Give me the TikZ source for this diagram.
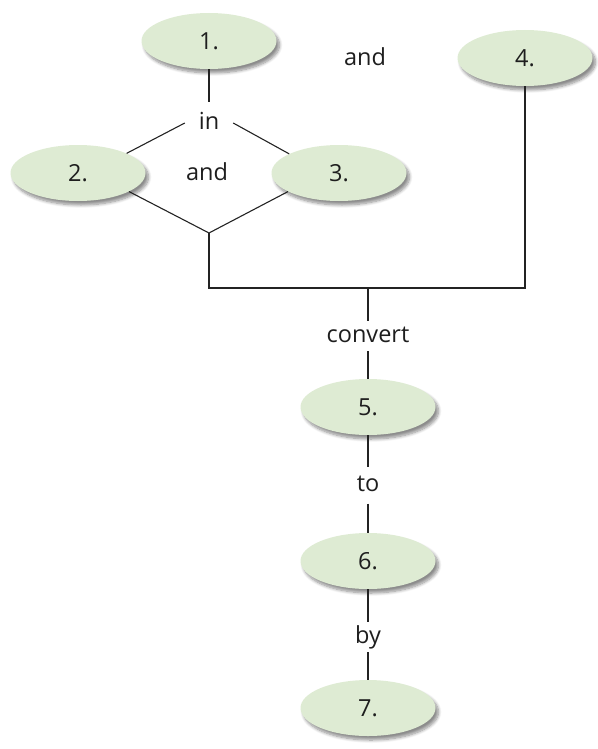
\documentclass[tikz,border=0pt]{standalone}
\usepackage{fontspec}
\setmainfont{Open Sans}
\usetikzlibrary{shapes.geometric,shadows.blur}
\definecolor{ellfill}{RGB}{222,235,211}
\definecolor{linecol}{RGB}{35,35,35}
\definecolor{txtcol}{RGB}{30,30,30}
\begin{document}
\begin{tikzpicture}[x=1pt,y=-1pt,
  ell/.style={ellipse, fill=ellfill, minimum width=135pt, minimum height=56pt, inner sep=0pt,
    font=\fontsize{23.5}{27}\selectfont, text=txtcol,
    blur shadow={shadow xshift=3pt, shadow yshift=-4pt, shadow blur radius=3pt, shadow opacity=45, shadow blur steps=8}},
  lbl/.style={inner sep=0pt, text height=17pt, text depth=5pt, font=\fontsize{23.5}{27}\selectfont, text=txtcol},
  conn/.style={draw=linecol, line width=1.1pt}]
\useasboundingbox (0,0) rectangle (597,749);

\node[ell] (e1) at (209,41) {1.};
\node[ell] (e2) at (78,173) {2.};
\node[ell] (e3) at (339,173) {3.};
\node[ell] (e4) at (525,58) {4.};
\node[ell] (e5) at (368,407) {5.};
\node[ell] (e6) at (368,561) {6.};
\node[ell] (e7) at (368,708) {7.};

\node[lbl, minimum width=48pt, minimum height=42pt] (in) at (209,123) {in};
\node[lbl] (and1) at (207,174.5) {and};
\node[lbl] (and2) at (365,59.5) {and};
\node[lbl, minimum height=30pt] (conv) at (368,336) {convert};
\node[lbl, minimum height=36pt] (to) at (368,485.5) {to};
\node[lbl, minimum height=30pt] (by) at (368,637) {by};

\coordinate (bot) at (209,233);
\coordinate (j1) at (209,288);
\coordinate (j2) at (368,288);

\draw[conn] (e1) -- (in);
\draw[conn] (in.west) -- (e2.22);
\draw[conn] (in.east) -- (e3.159);
\draw[conn] (e2.-20) -- (bot) -- (e3.200);
\draw[conn] (bot) -- (j1) -| (e4.south);
\draw[conn] (j2) -- (conv);
\draw[conn] (conv) -- (e5);
\draw[conn] (e5) -- (to);
\draw[conn] (to) -- (e6);
\draw[conn] (e6) -- (by);
\draw[conn] (by) -- (e7);
\end{tikzpicture}
\end{document}
